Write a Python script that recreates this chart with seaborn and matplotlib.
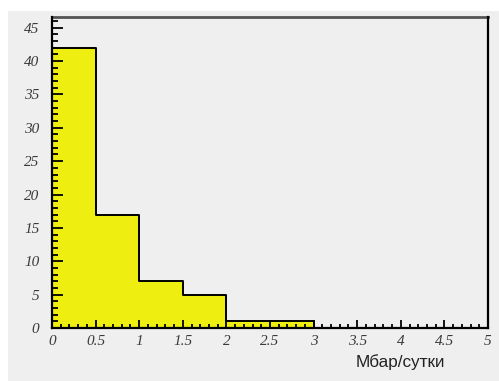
import numpy as np
import pandas as pd
import matplotlib
matplotlib.use("Agg")
import matplotlib.pyplot as plt
from matplotlib.patches import Rectangle
from matplotlib.ticker import MultipleLocator
import seaborn as sns

# Pressure-change rate bins (Mbar per day) and event counts
bin_edges = [0.0, 0.5, 1.0, 1.5, 2.0, 2.5, 3.0, 3.5, 4.0, 4.5, 5.0]
counts = [42, 17, 7, 5, 1, 1, 0, 0, 0, 0]
x_label = "Мбар/сутки"

centers = [(a + b) / 2 for a, b in zip(bin_edges[:-1], bin_edges[1:])]
df = pd.DataFrame({"rate": centers, "n": counts})

sns.set_style("white")
plt.rcParams["font.family"] = ["Liberation Serif", "DejaVu Serif"]

fig = plt.figure(figsize=(4.99, 3.81), dpi=100, facecolor="white")
# grey canvas panel behind the axes
fig.patches.append(Rectangle((8 / 499, 0), 1 - 8 / 499, 1 - 11 / 381,
                             transform=fig.transFigure, facecolor="#efefef",
                             edgecolor="none", zorder=-10))

ax = fig.add_axes([52 / 499, 1 - 328 / 381, (488 - 52) / 499, (328 - 17) / 381])
ax.set_zorder(5)
ax.set_facecolor("#efefef")

sns.histplot(data=df, x="rate", weights="n", bins=bin_edges, element="step",
             fill=True, color="#eeee11", alpha=1.0, edgecolor="black",
             linewidth=1.4, ax=ax)
for coll in ax.collections:
    coll.set_zorder(1)
for ln in ax.lines:
    ln.set_zorder(1.5)

ax.set_axisbelow(False)
ax.xaxis.set_zorder(3)
ax.yaxis.set_zorder(3)

ax.set_xlim(0, 5)
ax.set_ylim(0, 46.6)
ax.xaxis.set_major_locator(MultipleLocator(0.5))
ax.xaxis.set_minor_locator(MultipleLocator(0.1))
ax.yaxis.set_major_locator(MultipleLocator(5))
ax.yaxis.set_minor_locator(MultipleLocator(1))
ax.set_xticks(ax.get_xticks())
ax.set_xticklabels([f"{v:g}" for v in ax.get_xticks()])
ax.set_xlim(0, 5)

ax.tick_params(axis="both", which="both", direction="in", color="black",
               width=1.3, labelsize=11, labelcolor="#3a3a3a")
ax.tick_params(axis="y", which="major", length=8, pad=9)
ax.tick_params(axis="y", which="minor", length=4.5)
ax.tick_params(axis="x", which="major", length=6, pad=5)
ax.tick_params(axis="x", which="minor", length=3)
ax.tick_params(which="both", top=False, right=False, left=True, bottom=True)
for lab in ax.get_xticklabels() + ax.get_yticklabels():
    lab.set_fontstyle("italic")

for side in ["left", "bottom", "right"]:
    ax.spines[side].set_color("black")
    ax.spines[side].set_linewidth(1.6)
    ax.spines[side].set_zorder(4)
ax.spines["top"].set_color("#555555")
ax.spines["top"].set_linewidth(2.0)

ax.set_ylabel("")
ax.set_xlabel("")
fig.text(400 / 499, 1 - 362 / 381, x_label, ha="center", va="center",
         fontsize=12.3, family=["Liberation Sans", "DejaVu Sans"], color="#222222")

fig.savefig("out.png", dpi=100, facecolor=fig.get_facecolor())
